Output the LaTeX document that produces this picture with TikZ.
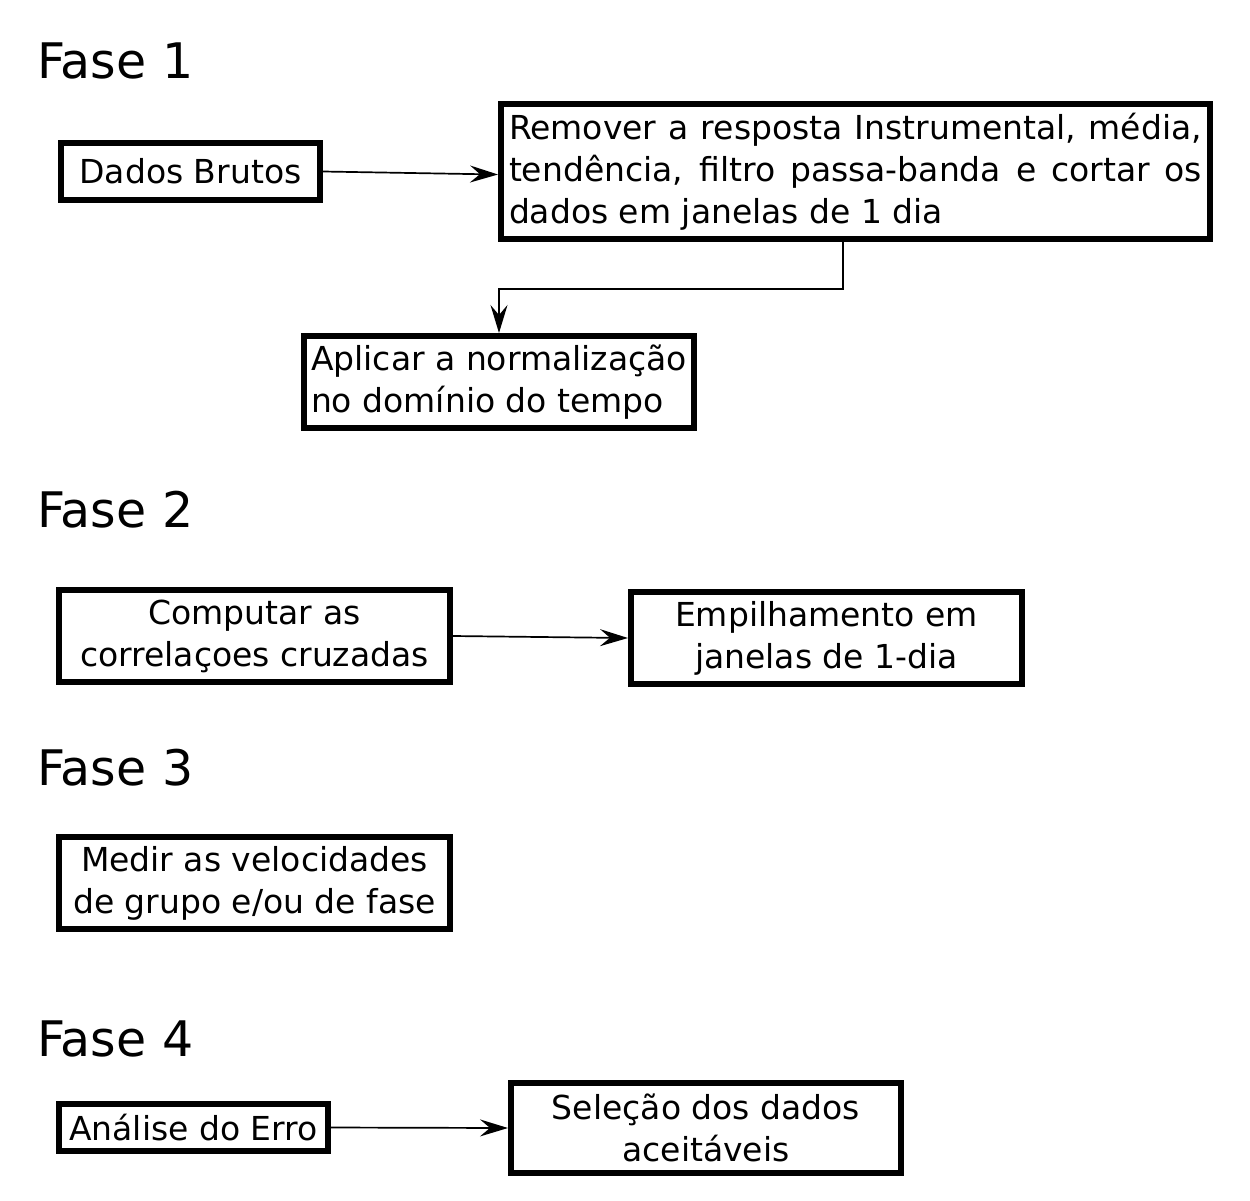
\documentclass[tikz,border=0pt]{standalone}
\usepackage{fontspec}
\setmainfont{DejaVu Sans}
\usetikzlibrary{arrows.meta}
\begin{document}
\begin{tikzpicture}[x=1pt,y=-1pt,
  box/.style={draw,line width=6pt,inner sep=0pt,align=center,
    font=\fontsize{33}{42}\selectfont},
  fase/.style={anchor=base west,inner sep=0pt,font=\fontsize{49}{58}\selectfont},
  arr/.style={line width=1.7pt,-{Stealth[length=28pt,width=17pt,inset=10pt]}}]
\useasboundingbox (0,0) rectangle (1250,1200);
\node[fase] (f1) at (37,78) {Fase 1};
\node[fase] (f2) at (37,527) {Fase 2};
\node[fase] (f3) at (37,785) {Fase 3};
\node[fase] (f4) at (37,1056) {Fase 4};

\node[box,minimum width=259pt,minimum height=57pt] (dados) at (190.5,171.5) {Dados Brutos};
\node[box,text width=693pt,inner xsep=8pt,minimum height=135pt,align=justify] (remover) at (855.5,171.5)
  {Remover a resposta Instrumental, média, tendência, filtro passa-banda e cortar os dados em janelas de 1 dia};
\node[box,minimum width=390pt,minimum height=92pt,align=left] (aplicar) at (499,382)
  {Aplicar a normalização\\no domínio do tempo};
\node[box,minimum width=391pt,minimum height=92pt] (computar) at (254.5,636)
  {Computar as\\correlaçoes cruzadas};
\node[box,minimum width=391pt,minimum height=92pt] (empilh) at (826.5,638)
  {Empilhamento em\\janelas de 1-dia};
\node[box,minimum width=391pt,minimum height=92pt] (medir) at (254.5,883)
  {Medir as velocidades\\de grupo e/ou de fase};
\node[box,minimum width=269pt,minimum height=47pt] (analise) at (193.5,1127.5)
  {Análise do Erro};
\node[box,minimum width=390pt,minimum height=90pt] (selecao) at (706,1128)
  {Seleção dos dados\\aceitáveis};

\draw[arr] (dados.east) -- ([yshift=-3pt]remover.west);
\draw[arr] ([xshift=-12.5pt]remover.south) -- ++(0,47) -| (aplicar.north);
\draw[arr] (computar.east) -- (empilh.west);
\draw[arr] (analise.east) -- (selecao.west);
\end{tikzpicture}
\end{document}
